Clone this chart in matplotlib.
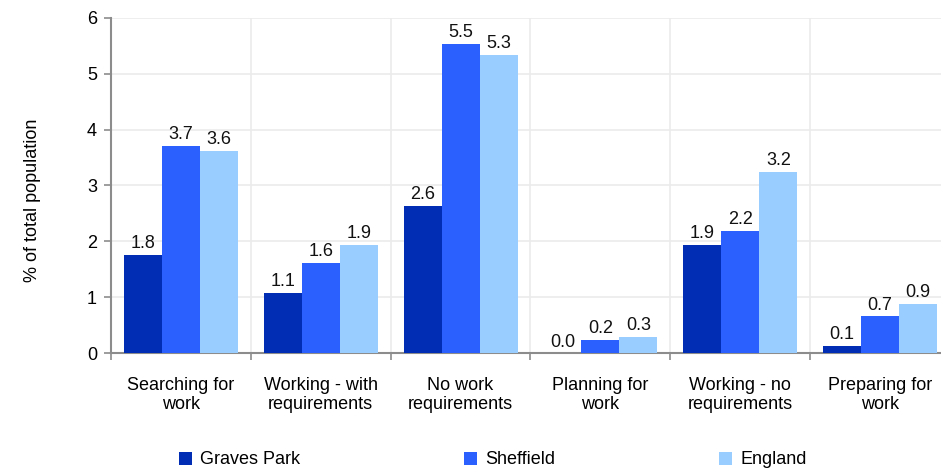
import numpy as np
import matplotlib.pyplot as plt

plt.rcParams['font.family'] = ['Liberation Sans', 'DejaVu Sans']

categories = ['Searching for\nwork', 'Working - with\nrequirements', 'No work\nrequirements',
              'Planning for\nwork', 'Working - no\nrequirements', 'Preparing for\nwork']
series_names = ['Graves Park', 'Sheffield', 'England']
graves_park = [1.76, 1.08, 2.63, 0.0, 1.94, 0.13]
sheffield = [3.71, 1.62, 5.53, 0.24, 2.19, 0.66]
england = [3.62, 1.94, 5.33, 0.29, 3.24, 0.88]
colors = ['#002db3', '#2b60ff', '#99ccff']
fs = 13

fig = plt.figure(figsize=(9.41, 4.70), dpi=100)
# plot area runs slightly past the right edge, as in the original
ax = fig.add_axes([111/941, 1 - 353.3/470, (950 - 111)/941, (353.3 - 17.7)/470])

x = np.arange(len(categories))
w = 0.272
for i, (vals, name) in enumerate(zip([graves_park, sheffield, england], series_names)):
    bars = ax.bar(x + (i - 1) * w, vals, w, color=colors[i], label=name, zorder=3)
    for b, v in zip(bars, vals):
        ax.annotate(f'{v:.1f}', (b.get_x() + b.get_width() / 2, b.get_height()),
                    xytext=(0, 2), textcoords='offset points', ha='center', va='bottom',
                    fontsize=fs, color='#111111')

ax.set_xlim(-0.5, len(categories) - 0.5)
ax.set_ylim(0, 6)
ax.set_yticks(range(7))
ax.set_xticks(x)
ax.set_xticklabels(categories, fontsize=fs, linespacing=1.15)
ax.set_xticks(np.arange(len(categories) + 1) - 0.5, minor=True)
ax.tick_params(axis='x', which='major', length=0, pad=17)
ax.tick_params(axis='x', which='minor', length=5, color='#8c8c8c', width=1.2)
ax.tick_params(axis='y', length=5, color='#8c8c8c', width=1.2, labelsize=fs, pad=5)

ax.grid(True, axis='y', color='#ebebeb', linewidth=1.2, zorder=0)
ax.grid(True, axis='x', which='minor', color='#ebebeb', linewidth=1.2, zorder=0)
for s in ['top', 'right']:
    ax.spines[s].set_visible(False)
for s in ['left', 'bottom']:
    ax.spines[s].set_color('#8c8c8c')
    ax.spines[s].set_linewidth(1.5)

ax.set_ylabel('% of total population', fontsize=fs)
ax.yaxis.set_label_coords(-0.083, 0.455)

fig.legend(loc='center left', bbox_to_anchor=(179/941, 1 - 460/470), ncol=3, frameon=False,
           fontsize=fs, handlelength=0.7, handleheight=0.7, handletextpad=0.45,
           columnspacing=9.1, borderpad=0, borderaxespad=0)

fig.savefig('out.png', dpi=100)
